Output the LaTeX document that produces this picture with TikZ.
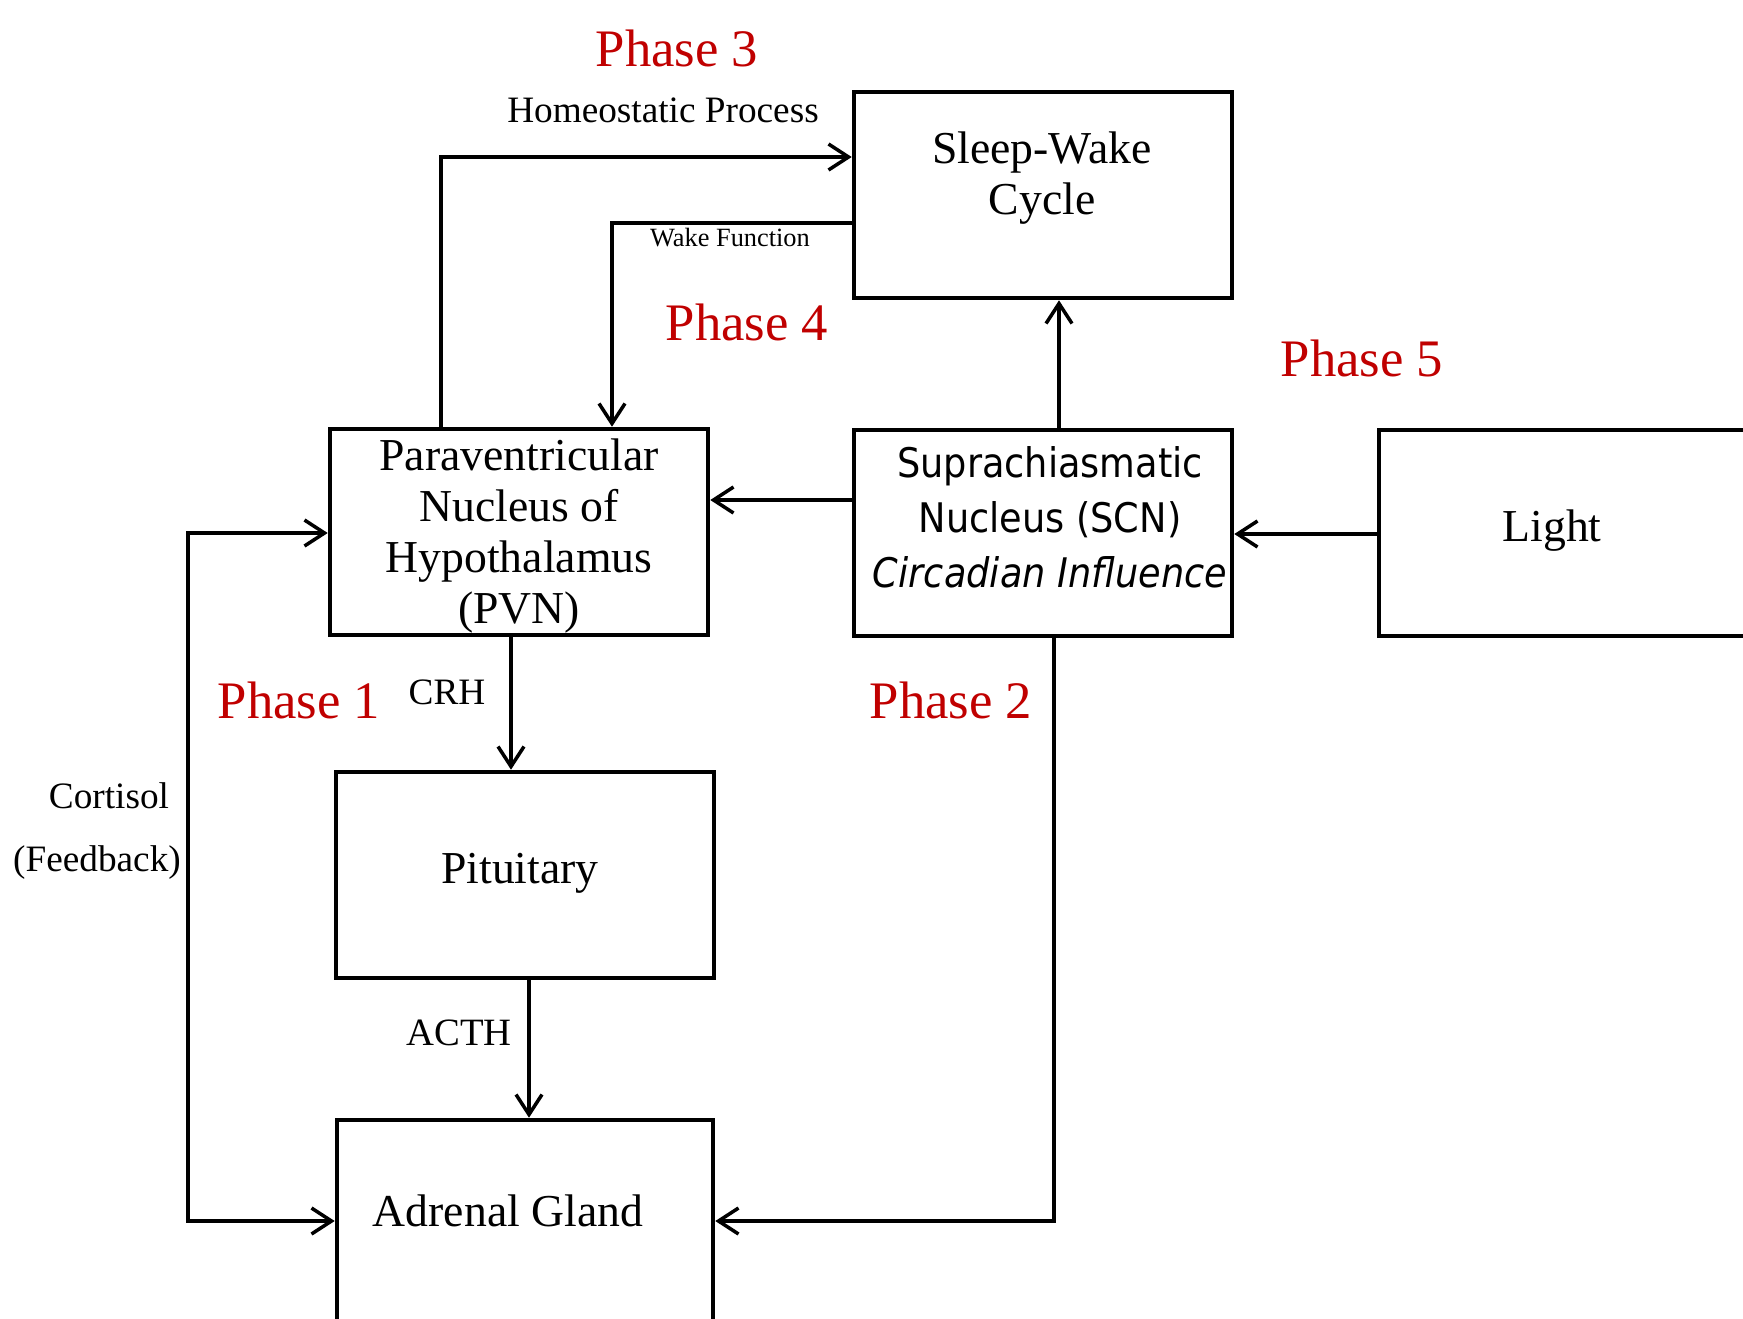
\documentclass[tikz,border=0pt]{standalone}
\usepackage{fontspec}
\setmainfont{Liberation Serif}
\newfontfamily\scnfont[FakeStretch=0.9]{DejaVu Sans}
\usetikzlibrary{arrows.meta}
\definecolor{phasered}{RGB}{192,0,0}

\begin{document}
\begin{tikzpicture}[x=0.1mm,y=-0.1mm,barb/.tip={Straight Barb[length=2mm,width=2.6mm]},box/.style={rectangle,draw,line width=1.3pt,minimum width=37.8mm,minimum height=20.6mm,inner sep=0pt},txt/.style={font=\fontsize{13}{14.5}\selectfont,align=center,inner sep=0pt},small/.style={font=\fontsize{10.6}{12}\selectfont,inner sep=0pt},phase/.style={font=\fontsize{15}{17}\selectfont,text=phasered,inner sep=0pt},link/.style={line width=1pt,-barb}]
\useasboundingbox (0,0) rectangle (1743,1318);
\clip (0,0) rectangle (1743,1318);
\coordinate (SW) at (1043,195);
\coordinate (PVN) at (519,532);
\coordinate (SCN) at (1043,533);
\coordinate (LI) at (1590,533);
\coordinate (PIT) at (525,875);
\coordinate (AD) at (525,1235);
\node[box] (sw) at (SW) {};
\node[txt] (swtxt) at (1042,178) {Sleep-Wake\\Cycle};
\node[box] (pvn) at (PVN) {};
\node[txt] (pvntxt) at (519,536) {Paraventricular\\Nucleus of\\Hypothalamus\\(PVN)};
\node[box] (scn) at (SCN) {};
\node[txt,font=\scnfont\fontsize{11.6}{15.6}\selectfont] (scntxt) at (1050,517) {Suprachiasmatic\\Nucleus (SCN)\\\textit{Circadian Influence}};
\node[box,minimum width=42.2mm] (light) at (LI) {};
\node[txt] (lighttxt) at (1552,531) {Light};
\node[box] (pit) at (PIT) {};
\node[txt] (pittxt) at (520,873) {Pituitary};
\node[box,minimum width=37.6mm,minimum height=23mm] (adrenal) at (AD) {};
\node[txt] (adtxt) at (508,1211) {Adrenal Gland};
% connector corners
\coordinate (hp) at (441,157);
\coordinate (wf) at (612,223);
\coordinate (up) at (1059,0);
\coordinate (lt) at (0,500);
\coordinate (rt) at (0,534);
\coordinate (crh) at (511,0);
\coordinate (acth) at (529,0);
\coordinate (sc) at (1054,1221);
\coordinate (fb) at (188,533);
\coordinate (fa) at (188,1221);
\draw[link] (pvn.north -| hp) |- (sw.west |- hp);
\draw[link] (sw.west |- wf) -| (pvn.north -| wf);
\draw[link] (scn.north -| up) -- (sw.south -| up);
\draw[link] (scn.west |- lt) -- (pvn.east |- lt);
\draw[link] (light.west |- rt) -- (scn.east |- rt);
\draw[link] (pvn.south -| crh) -- (pit.north -| crh);
\draw[link] (pit.south -| acth) -- (adrenal.north -| acth);
\draw[link] (scn.south -| sc) |- (adrenal.east |- sc);
\draw[link,barb-barb] (pvn.west |- fb) -- (fb) -- (fa) -- (adrenal.west |- fa);
% labels
\node[small] (hptxt) at (663,110) {Homeostatic Process};
\node[inner sep=0pt,font=\fontsize{7.5}{9}\selectfont] (wftxt) at (730,238) {Wake Function};
\node[small] (crhtxt) at (447,692) {CRH};
\node[small,font=\fontsize{11}{12}\selectfont] (acthtxt) at (459,1033) {ACTH};
\node[small] (cortxt) at (109,796) {Cortisol};
\node[small] (fbtxt) at (97,863) {(Feedback)};
\node[phase] (ph1) at (299,700) {Phase 1};
\node[phase] (ph2) at (951,700) {Phase 2};
\node[phase] (ph3) at (677,48) {Phase 3};
\node[phase] (ph4) at (747,322) {Phase 4};
\node[phase] (ph5) at (1362,358) {Phase 5};
\end{tikzpicture}
\end{document}
